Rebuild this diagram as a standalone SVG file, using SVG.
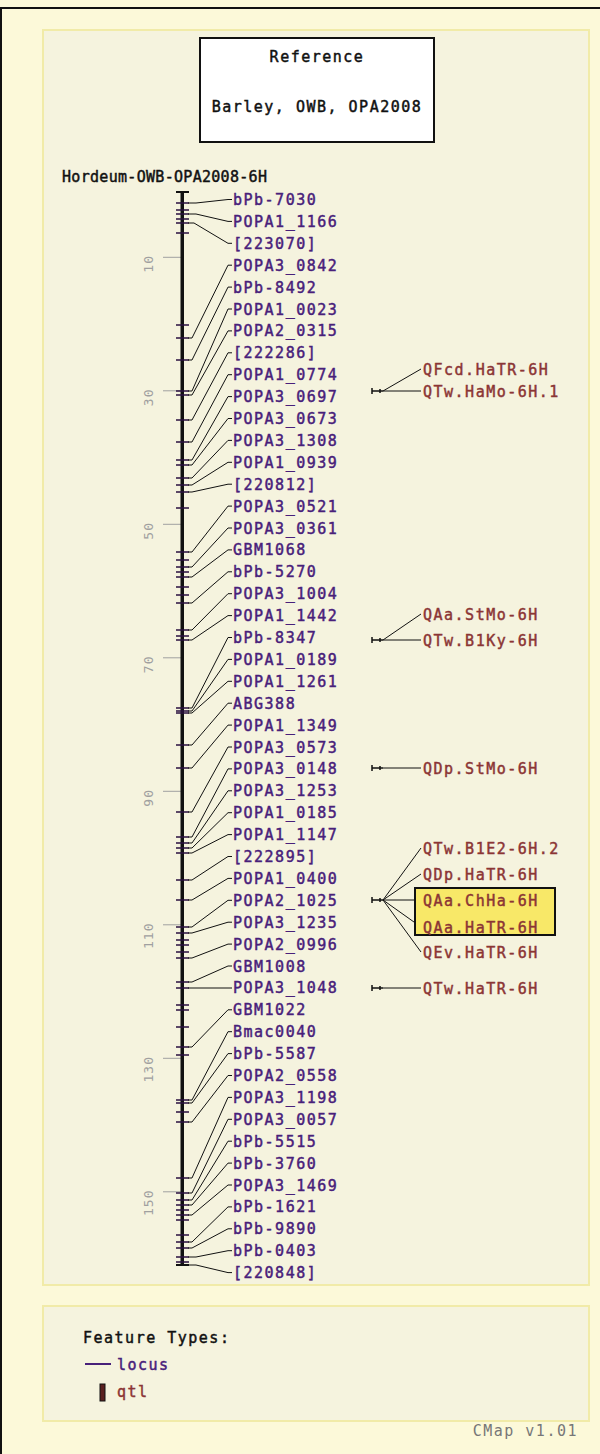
<svg xmlns="http://www.w3.org/2000/svg" width="600" height="1454" viewBox="0 0 600 1454">
<style>
text{font-family:"DejaVu Sans Mono","Liberation Mono",monospace;font-size:15px;letter-spacing:1.5px;stroke-width:0.45px}
.lb{fill:#48207a;stroke:#48207a}
.ql{fill:#8b3535;stroke:#8b3535}
.bk{fill:#111;stroke:#111}
.sc{fill:#a0a0a0;font-size:13px;letter-spacing:1px}
.cn polyline{fill:none;stroke:#111;stroke-width:1}
.tk{stroke:#2a1040;stroke-width:1.5}
.qm{stroke:#111;stroke-width:1.5}
</style>
<rect x="0" y="0" width="600" height="1454" fill="#fcf9d9"/>
<line x1="1" y1="7" x2="1" y2="1454" stroke="#111" stroke-width="2"/>
<line x1="0" y1="8" x2="600" y2="8" stroke="#111" stroke-width="2"/>
<rect x="43" y="30" width="546" height="1255" fill="#f5f3de" stroke="#f1eba8" stroke-width="2"/>
<rect x="43" y="1306" width="546" height="115" fill="#f5f3de" stroke="#f1eba8" stroke-width="2"/>
<g id="title">
<rect x="200" y="38" width="234" height="104" fill="#fff" stroke="#111" stroke-width="2"/>
<text class="bk" x="317" y="62" text-anchor="middle">Reference</text>
<text class="bk" x="317" y="112" text-anchor="middle">Barley, OWB, OPA2008</text>
</g>
<text class="bk" x="62" y="182" style="letter-spacing:0.3px">Hordeum-OWB-OPA2008-6H</text>
<g id="scale">
<g stroke="#a0a0a0" stroke-width="1">
<line x1="163" y1="257.3" x2="181" y2="257.3"/><line x1="163" y1="390.8" x2="181" y2="390.8"/>
<line x1="163" y1="524.3" x2="181" y2="524.3"/><line x1="163" y1="657.8" x2="181" y2="657.8"/>
<line x1="163" y1="791.3" x2="181" y2="791.3"/><line x1="163" y1="924.8" x2="181" y2="924.8"/>
<line x1="163" y1="1058.3" x2="181" y2="1058.3"/><line x1="163" y1="1191.8" x2="181" y2="1191.8"/>
</g>
<text class="sc" transform="translate(153,255) rotate(-90)" text-anchor="end">10</text>
<text class="sc" transform="translate(153,388.5) rotate(-90)" text-anchor="end">30</text>
<text class="sc" transform="translate(153,522) rotate(-90)" text-anchor="end">50</text>
<text class="sc" transform="translate(153,655.5) rotate(-90)" text-anchor="end">70</text>
<text class="sc" transform="translate(153,789) rotate(-90)" text-anchor="end">90</text>
<text class="sc" transform="translate(153,922.5) rotate(-90)" text-anchor="end">110</text>
<text class="sc" transform="translate(153,1056) rotate(-90)" text-anchor="end">130</text>
<text class="sc" transform="translate(153,1189.5) rotate(-90)" text-anchor="end">150</text>
</g>
<g id="axis">
<rect x="180.5" y="192" width="3.5" height="1074" fill="#111"/>
<line x1="176" y1="192" x2="189" y2="192" stroke="#111" stroke-width="2"/>
<line x1="176" y1="1265" x2="189" y2="1265" stroke="#111" stroke-width="2"/>
<g class="tk">
<path d="M176 203h13M176 210h13M176 214h13M176 219h13M176 223h13M176 233h13M176 325h13M176 338h13M176 360h13M176 391h13M176 395h13M176 420h13M176 442h13M176 460h13M176 465h13M176 478h13M176 485h13M176 492h13M176 508h13M176 552h13M176 560h13M176 567h13M176 572h13M176 577h13M176 587h13M176 595h13M176 603h13M176 630h13M176 636h13M176 640h13M176 708h13M176 711h13M176 713h13M176 745h13M176 768h13M176 812h13M176 837h13M176 843h13M176 848h13M176 853h13M176 880h13M176 900h13M176 927h13M176 933h13M176 940h13M176 945h13M176 952h13M176 958h13M176 982h13M176 988h13M176 1005h13M176 1010h13M176 1027h13M176 1047h13M176 1055h13M176 1100h13M176 1103h13M176 1112h13M176 1122h13M176 1178h13M176 1193h13M176 1200h13M176 1205h13M176 1210h13M176 1215h13M176 1220h13M176 1235h13M176 1242h13M176 1248h13M176 1257h13M176 1262h13"/>
</g>
</g>
<g id="connectors" class="cn">
<polyline points="188,203 196,203 228,199.5 232,199.5"/>
<polyline points="188,214 196,214 228,221.4 232,221.4"/>
<polyline points="188,223 194,223 228,243.3 232,243.3"/>
<polyline points="188,338 192,338 228,265.2 232,265.2"/>
<polyline points="188,360 192,360 228,287.1 232,287.1"/>
<polyline points="188,391 192,391 228,309 232,309"/>
<polyline points="188,395 192,395 228,330.9 232,330.9"/>
<polyline points="188,420 192,420 228,352.8 232,352.8"/>
<polyline points="188,442 192,442 228,374.7 232,374.7"/>
<polyline points="188,460 192,460 228,396.6 232,396.6"/>
<polyline points="188,465 192,465 228,418.5 232,418.5"/>
<polyline points="188,478 192,478 228,440.4 232,440.4"/>
<polyline points="188,485 192,485 228,462.3 232,462.3"/>
<polyline points="188,492 192,492 228,484.2 232,484.2"/>
<polyline points="188,552 192,552 228,506.1 232,506.1"/>
<polyline points="188,567 192,567 228,528 232,528"/>
<polyline points="188,577 192,577 228,549.9 232,549.9"/>
<polyline points="188,603 192,603 228,571.8 232,571.8"/>
<polyline points="188,630 192,630 228,593.7 232,593.7"/>
<polyline points="188,640 192,640 228,615.6 232,615.6"/>
<polyline points="188,708 192,708 228,637.5 232,637.5"/>
<polyline points="188,711 192,711 228,659.4 232,659.4"/>
<polyline points="188,713 192,713 228,681.3 232,681.3"/>
<polyline points="188,745 192,745 228,703.2 232,703.2"/>
<polyline points="188,768 192,768 228,725.1 232,725.1"/>
<polyline points="188,812 192,812 228,747 232,747"/>
<polyline points="188,837 192,837 228,768.9 232,768.9"/>
<polyline points="188,843 192,843 228,790.8 232,790.8"/>
<polyline points="188,848 192,848 228,812.7 232,812.7"/>
<polyline points="188,853 192,853 228,834.6 232,834.6"/>
<polyline points="188,880 192,880 228,856.5 232,856.5"/>
<polyline points="188,900 192,900 228,878.4 232,878.4"/>
<polyline points="188,927 192,927 228,900.3 232,900.3"/>
<polyline points="188,933 192,933 228,922.2 232,922.2"/>
<polyline points="188,958 192,958 228,944.1 232,944.1"/>
<polyline points="188,982 192,982 228,966 232,966"/>
<polyline points="188,988 232,988"/>
<polyline points="188,1047 192,1047 228,1009.8 232,1009.8"/>
<polyline points="188,1100 192,1100 228,1031.7 232,1031.7"/>
<polyline points="188,1103 192,1103 228,1053.6 232,1053.6"/>
<polyline points="188,1122 192,1122 228,1075.5 232,1075.5"/>
<polyline points="188,1178 192,1178 228,1097.4 232,1097.4"/>
<polyline points="188,1193 192,1193 228,1119.3 232,1119.3"/>
<polyline points="188,1200 192,1200 228,1141.2 232,1141.2"/>
<polyline points="188,1205 192,1205 228,1163.1 232,1163.1"/>
<polyline points="188,1215 192,1215 228,1185 232,1185"/>
<polyline points="188,1242 192,1242 228,1206.9 232,1206.9"/>
<polyline points="188,1248 192,1248 228,1228.8 232,1228.8"/>
<polyline points="188,1257 196,1257 228,1250.7 232,1250.7"/>
<polyline points="188,1265 196,1265 228,1272.6 232,1272.6"/>
<polyline points="383,391 421,369"/>
<polyline points="383,391 421,391"/>
<polyline points="383,640 421,614"/>
<polyline points="383,640 421,640"/>
<polyline points="383,768 421,768"/>
<polyline points="383,900 421,848"/>
<polyline points="383,900 421,874"/>
<polyline points="383,900 421,900"/>
<polyline points="383,900 421,927"/>
<polyline points="383,900 421,952"/>
<polyline points="383,988 421,988"/>
</g>
<g id="loci" class="lb">
<g id="n1"><text x="233" y="205">bPb-7030</text></g>
<g id="n2"><text x="233" y="226.9">POPA1_1166</text></g>
<g id="n3"><text x="233" y="248.8">[223070]</text></g>
<g id="n4"><text x="233" y="270.7">POPA3_0842</text></g>
<g id="n5"><text x="233" y="292.6">bPb-8492</text></g>
<g id="n6"><text x="233" y="314.5">POPA1_0023</text></g>
<g id="n7"><text x="233" y="336.4">POPA2_0315</text></g>
<g id="n8"><text x="233" y="358.3">[222286]</text></g>
<g id="n9"><text x="233" y="380.2">POPA1_0774</text></g>
<g id="n10"><text x="233" y="402.1">POPA3_0697</text></g>
<g id="n11"><text x="233" y="424">POPA3_0673</text></g>
<g id="n12"><text x="233" y="445.9">POPA3_1308</text></g>
<g id="n13"><text x="233" y="467.8">POPA1_0939</text></g>
<g id="n14"><text x="233" y="489.7">[220812]</text></g>
<g id="n15"><text x="233" y="511.6">POPA3_0521</text></g>
<g id="n16"><text x="233" y="533.5">POPA3_0361</text></g>
<g id="n17"><text x="233" y="555.4">GBM1068</text></g>
<g id="n18"><text x="233" y="577.3">bPb-5270</text></g>
<g id="n19"><text x="233" y="599.2">POPA3_1004</text></g>
<g id="n20"><text x="233" y="621.1">POPA1_1442</text></g>
<g id="n21"><text x="233" y="643">bPb-8347</text></g>
<g id="n22"><text x="233" y="664.9">POPA1_0189</text></g>
<g id="n23"><text x="233" y="686.8">POPA1_1261</text></g>
<g id="n24"><text x="233" y="708.7">ABG388</text></g>
<g id="n25"><text x="233" y="730.6">POPA1_1349</text></g>
<g id="n26"><text x="233" y="752.5">POPA3_0573</text></g>
<g id="n27"><text x="233" y="774.4">POPA3_0148</text></g>
<g id="n28"><text x="233" y="796.3">POPA3_1253</text></g>
<g id="n29"><text x="233" y="818.2">POPA1_0185</text></g>
<g id="n30"><text x="233" y="840.1">POPA1_1147</text></g>
<g id="n31"><text x="233" y="862">[222895]</text></g>
<g id="n32"><text x="233" y="883.9">POPA1_0400</text></g>
<g id="n33"><text x="233" y="905.8">POPA2_1025</text></g>
<g id="n34"><text x="233" y="927.7">POPA3_1235</text></g>
<g id="n35"><text x="233" y="949.6">POPA2_0996</text></g>
<g id="n36"><text x="233" y="971.5">GBM1008</text></g>
<g id="n37"><text x="233" y="993.4">POPA3_1048</text></g>
<g id="n38"><text x="233" y="1015.3">GBM1022</text></g>
<g id="n39"><text x="233" y="1037.2">Bmac0040</text></g>
<g id="n40"><text x="233" y="1059.1">bPb-5587</text></g>
<g id="n41"><text x="233" y="1081">POPA2_0558</text></g>
<g id="n42"><text x="233" y="1102.9">POPA3_1198</text></g>
<g id="n43"><text x="233" y="1124.8">POPA3_0057</text></g>
<g id="n44"><text x="233" y="1146.7">bPb-5515</text></g>
<g id="n45"><text x="233" y="1168.6">bPb-3760</text></g>
<g id="n46"><text x="233" y="1190.5">POPA3_1469</text></g>
<g id="n47"><text x="233" y="1212.4">bPb-1621</text></g>
<g id="n48"><text x="233" y="1234.3">bPb-9890</text></g>
<g id="n49"><text x="233" y="1256.2">bPb-0403</text></g>
<g id="n50"><text x="233" y="1278.1">[220848]</text></g>
</g>
<g id="qtls">
<g class="qm">
<path d="M372 391h11M372 388v6M380 389v4M372 640h11M372 637v6M380 638v4M372 768h11M372 765v6M380 766v4M372 900h11M372 897v6M380 898v4M372 988h11M372 985v6M380 986v4"/>
</g>
<g id="hl"><rect x="415" y="888" width="140" height="47" fill="#f8e868" stroke="#111" stroke-width="2"/></g>
<g class="ql">
<g id="q1"><text x="423" y="374.5">QFcd.HaTR-6H</text></g>
<g id="q2"><text x="423" y="396.5">QTw.HaMo-6H.1</text></g>
<g id="q3"><text x="423" y="619.5">QAa.StMo-6H</text></g>
<g id="q4"><text x="423" y="645.5">QTw.B1Ky-6H</text></g>
<g id="q5"><text x="423" y="773.5">QDp.StMo-6H</text></g>
<g id="q6"><text x="423" y="853.5">QTw.B1E2-6H.2</text></g>
<g id="q7"><text x="423" y="879.5">QDp.HaTR-6H</text></g>
<g id="q8"><text x="423" y="905.5">QAa.ChHa-6H</text></g>
<g id="q9"><text x="423" y="932.5">QAa.HaTR-6H</text></g>
<g id="q10"><text x="423" y="957.5">QEv.HaTR-6H</text></g>
<g id="q11"><text x="423" y="993.5">QTw.HaTR-6H</text></g>
</g>
</g>
<g id="legend">
<text class="bk" x="83" y="1343">Feature Types:</text>
<line x1="85" y1="1364" x2="111" y2="1364" stroke="#48207a" stroke-width="2"/>
<text class="lb" x="117" y="1370">locus</text>
<rect x="100" y="1384" width="5" height="17" fill="#5a2020" stroke="#111" stroke-width="1"/>
<text class="ql" x="117" y="1397">qtl</text>
<text x="578" y="1436" text-anchor="end" style="fill:#777">CMap v1.01</text>
</g>
</svg>
